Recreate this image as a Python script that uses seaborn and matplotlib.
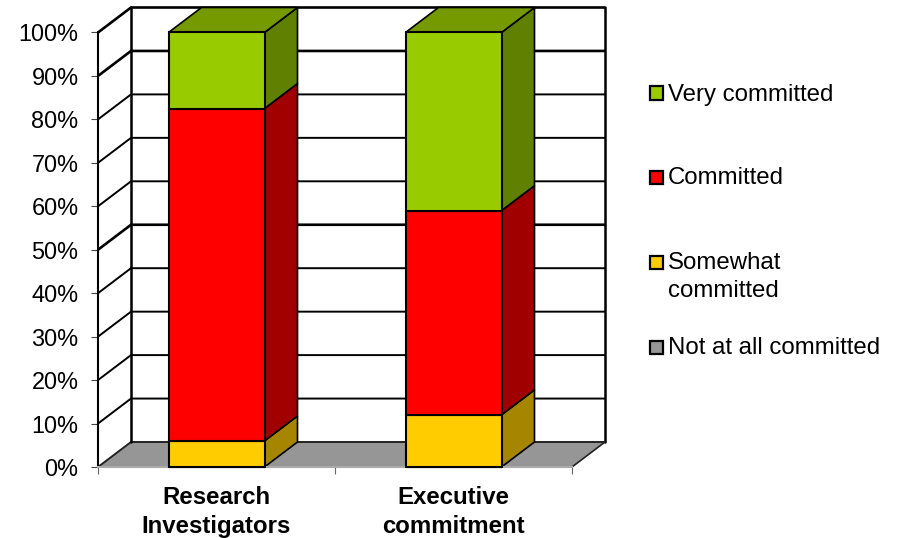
import matplotlib
matplotlib.use("Agg")
import matplotlib.pyplot as plt
import seaborn as sns
import numpy as np
from matplotlib.patches import Rectangle

categories = ["Research\nInvestigators", "Executive\ncommitment"]
series_names = ["Not at all committed", "Somewhat committed", "Committed", "Very committed"]
not_at_all = [0, 0]
somewhat = [6, 12]
committed = [76.5, 47]
very = [17.5, 41]
series_values = [not_at_all, somewhat, committed, very]
colors = ["#969696", "#FFCC00", "#FF0000", "#99CC00"]
side_colors = ["#5A5A5A", "#A68500", "#A00000", "#5F8000"]
top_color = "#759A00"
legend_labels = ["Very committed", "Committed", "Somewhat\ncommitted", "Not at all committed"]
legend_colors = ["#99CC00", "#FF0000", "#FFCC00", "#969696"]
legend_y_px = [93, 177, 262, 347]

W, H = 899, 538
sns.set_style("white")
plt.rcParams["font.family"] = ["Liberation Sans", "DejaVu Sans"]
plt.rcParams["text.color"] = "black"
plt.rcParams["xtick.labelcolor"] = "black"
plt.rcParams["ytick.labelcolor"] = "black"
FS = 17.3
FSY = 16.9
FSB = 17.3

fig = plt.figure(figsize=(W / 100, H / 100), dpi=100)
L, R, T, B = 98, 572, 32.5, 467
ax = fig.add_axes([L / W, 1 - B / H, (R - L) / W, (B - T) / H])

bar_w = 96 / 237
dx = 33 / 237
dy = 25 / ((B - T) / 100)
xmin, xmax = -0.5, 1.5

# floor and walls
ax.fill([xmin, xmax, xmax + dx, xmin + dx], [0, 0, dy, dy], color="#969696", lw=0, zorder=0.5, clip_on=False)
for p in range(0, 101, 10):
    lw = 1.9 if p in (50, 90, 100) else 1.4
    gc = "#000000" if p > 0 else "#222222"
    ax.plot([xmin, xmin + dx, xmax + dx], [p, p + dy, p + dy], color=gc, lw=lw, zorder=1,
            clip_on=False, solid_capstyle="butt")
ax.plot([xmin + dx] * 2, [dy, 100 + dy], color="k", lw=1.8, zorder=1, clip_on=False)
ax.plot([xmax + dx] * 2, [dy, 100 + dy], color="k", lw=1.8, zorder=1, clip_on=False)
ax.plot([xmax, xmax + dx], [0, dy], color="#222222", lw=1.2, zorder=1, clip_on=False)

# front faces
bottoms = np.zeros(2)
for vals, col in zip(series_values, colors):
    sns.barplot(x=categories, y=vals, bottom=bottoms, color=col, saturation=1, width=bar_w,
                edgecolor="black", linewidth=1.5, ax=ax, zorder=3, clip_on=False)
    bottoms = bottoms + np.array(vals)

# side and top faces of the boxes
for i in range(2):
    xr = i + bar_w / 2
    xl = i - bar_w / 2
    b = 0
    for vals, sc in zip(series_values, side_colors):
        v = vals[i]
        if v > 0:
            ax.fill([xr, xr + dx, xr + dx, xr], [b, b + dy, b + v + dy, b + v],
                    facecolor=sc, edgecolor="black", lw=1.2, zorder=2, clip_on=False)
        b += v
    ax.fill([xl, xr, xr + dx, xl + dx], [b, b, b + dy, b + dy],
            facecolor=top_color, edgecolor="black", lw=1.2, zorder=2, clip_on=False)

ax.set_xlim(xmin, xmax)
ax.set_ylim(0, 100)
ax.set_yticks(range(0, 101, 10))
ax.set_yticklabels([f"{p}%" for p in range(0, 101, 10)], fontsize=FSY)
ax.set_xticks([0, 1])
ax.set_xticklabels(categories, fontsize=FSB, fontweight="bold", linespacing=1.3)
ax.set_xticks([-0.5, 0.5, 1.5], minor=True)
ax.tick_params(axis="y", which="major", length=5, width=0.8, color="#444444", pad=9, left=True)
ax.tick_params(axis="x", which="major", length=0, pad=14, bottom=False)
ax.tick_params(axis="x", which="minor", length=5, width=0.8, color="#666666", bottom=True)
ax.set_xlabel("")
ax.set_ylabel("")
for s in ("top", "right"):
    ax.spines[s].set_visible(False)
ax.spines["left"].set_color("black")
ax.spines["left"].set_linewidth(1.5)
ax.spines["bottom"].set_color("#AAAAAA")
ax.spines["bottom"].set_linewidth(1.5)
ax.patch.set_alpha(0)

# legend
for lab, col, y in zip(legend_labels, legend_colors, legend_y_px):
    fig.add_artist(Rectangle((650 / W, 1 - (y + 6.5) / H), 13 / W, 13 / H, transform=fig.transFigure,
                             facecolor=col, edgecolor="black", lw=1.6))
    fig.text(668 / W, 1 - (y - 9.5) / H, lab, fontsize=FS, va="top", ha="left", linespacing=1.3, color="black")

fig.savefig("out.png", dpi=100, facecolor="white")
